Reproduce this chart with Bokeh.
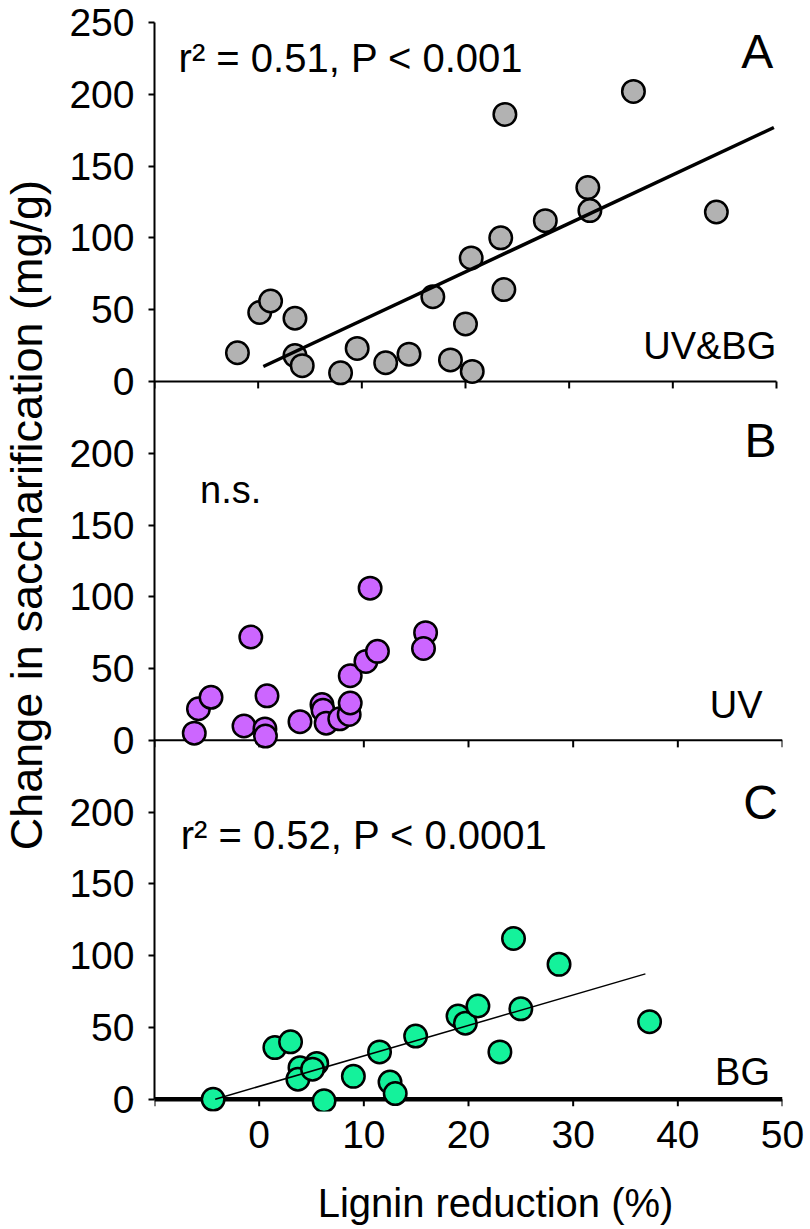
import math
from bokeh.plotting import figure
from bokeh.models import Range1d, FixedTicker, Label
from bokeh.layouts import column, row
from bokeh.embed import file_html
from bokeh.resources import INLINE

FONT = "Liberation Sans"

# ---------------- data ----------------
# Panel A  (UV&BG)
a_x = [-2.0, 0.15, 1.2, 3.55, 3.55, 4.25, 7.95, 9.55, 12.3, 14.55, 16.85, 18.55,
       20.0, 20.65, 20.55, 23.4, 23.7, 23.8, 27.7, 31.8, 32.0, 36.2, 44.2]
a_y = [20, 48, 56, 44, 18, 11, 6, 23, 13, 19, 59, 15,
       40, 7, 86, 100, 64, 186, 112, 135, 119, 202, 118]
# Panel B  (UV)
b_x = [-6.2, -5.8, -4.6, -1.45, -0.8, 0.55, 0.6, 0.75, 3.9, 6.0, 6.1, 6.4,
       7.7, 8.6, 8.7, 8.7, 10.2, 10.6, 11.3, 15.9, 15.7]
b_y = [5, 22, 30, 10, 72, 8, 3, 31, 13, 25, 21, 12,
       15, 18, 26, 45, 55, 106, 62, 75, 64]
# Panel C  (BG)
c_x = [-4.4, 1.5, 3.0, 3.9, 3.7, 5.5, 5.1, 6.2, 9.0, 11.5, 12.5, 13.0,
       14.95, 19.0, 19.7, 20.9, 23.0, 24.3, 25.0, 28.65, 37.3]
c_y = [0, 36, 40, 22, 14, 25, 21, -1, 16, 33, 12, 4,
       44, 58, 53, 65, 33, 112, 63, 94, 54]

# regression lines: slope, intercept, x extent
fit_a = {"slope": 3.38, "intercept": 8.7, "x": [0.5, 49.75]}
fit_c = {"slope": 2.123, "intercept": 9.0, "x": [-4.2, 36.9]}

x_ticks = [-10, 0, 10, 20, 30, 40, 50]
x_tick_labels = ["", "0", "10", "20", "30", "40", "50"]
y_ticks_a = [0, 50, 100, 150, 200, 250]
y_ticks_b = [0, 50, 100, 150, 200]
y_ticks_c = [0, 50, 100, 150, 200]

x_title = "Lignin reduction (%)"
y_title = "Change in saccharification (mg/g)"

panel_span = 250
offsets = {"A": 2 * panel_span, "B": panel_span, "C": 0}
y_lo, y_hi = -8.5, 3 * panel_span

# ---------------- layout sizes ----------------
W, H = 810, 1229
LEFT_W = 52          # strip holding the y title
BOTTOM_H = 64        # strip holding the x title
MAIN_W, MAIN_H = W - LEFT_W, H - BOTTOM_H
FRAME_L, FRAME_R, FRAME_T, FRAME_B = 154 - LEFT_W, 28, 22, 54
frame_h = MAIN_H - FRAME_T - FRAME_B
px_per_unit = frame_h / (y_hi - y_lo)

p = figure(width=MAIN_W, height=MAIN_H,
           x_range=Range1d(-10, 50), y_range=Range1d(y_lo, y_hi),
           output_backend="svg", toolbar_location=None,
           min_border_left=FRAME_L, min_border_right=FRAME_R,
           min_border_top=FRAME_T, min_border_bottom=FRAME_B)
p.extra_y_ranges = {"A": Range1d(y_lo - offsets["A"], y_hi - offsets["A"]),
                    "B": Range1d(y_lo - offsets["B"], y_hi - offsets["B"])}
p.extra_x_ranges = {"A": Range1d(-10, 50.58)}
p.grid.visible = False
p.outline_line_color = None

# ---- y axis (one continuous axis for the three stacked panels) ----
ytick_pos, overrides = [], {}
for name, ticks in (("C", y_ticks_c), ("B", y_ticks_b), ("A", y_ticks_a)):
    for t in ticks:
        pos = t + offsets[name]
        ytick_pos.append(pos)
        overrides[pos] = str(t)
yax = p.yaxis[0]
yax.ticker = FixedTicker(ticks=sorted(set(ytick_pos)), minor_ticks=[])
yax.major_label_overrides = overrides
yax.bounds = (0, y_hi)
yax.axis_line_width = 2
yax.axis_line_color = "black"
yax.major_tick_line_width = 2
yax.major_tick_out = 6
yax.major_tick_in = 0
yax.minor_tick_out = 0
yax.minor_tick_in = 0
yax.major_label_text_font = FONT
yax.major_label_text_font_size = "39px"
yax.major_label_text_color = "black"
yax.major_label_standoff = 14

# ---- x axis labels (bottom) ----
xax = p.xaxis[0]
xax.ticker = FixedTicker(ticks=x_ticks, minor_ticks=[])
xax.major_label_overrides = {t: l for t, l in zip(x_ticks, x_tick_labels)}
xax.axis_line_color = None
xax.major_tick_line_color = None
xax.minor_tick_line_color = None
xax.major_label_text_font = FONT
xax.major_label_text_font_size = "39px"
xax.major_label_text_color = "black"
xax.major_label_standoff = 3

tick_units = 7 / px_per_unit
# zero lines + downward ticks of the three panels
for name, xr, lw in (("default", "default", 4.5), ("A", "A", 2), ("B", "default", 2)):
    p.line(x=[x_ticks[0], x_ticks[-1]], y=[0, 0], line_width=lw, line_color="black",
           x_range_name=xr, y_range_name=name)
    p.segment(x0=x_ticks, x1=x_ticks, y0=[0] * len(x_ticks),
              y1=[-tick_units] * len(x_ticks), line_width=2, line_color="black",
              x_range_name=xr, y_range_name=name)

# ---- points ----
MS, LW = 22.5, 2.5
p.scatter(a_x, a_y, size=MS, fill_color="#B2B2B2", line_color="black", line_width=LW,
          x_range_name="A", y_range_name="A")
p.scatter(b_x, b_y, size=MS, fill_color="#CC66FF", line_color="black", line_width=LW,
          y_range_name="B")
p.scatter(c_x, c_y, size=MS, fill_color="#14F29B", line_color="black", line_width=LW)

# ---- regression lines ----
fa_y = [fit_a["slope"] * x + fit_a["intercept"] for x in fit_a["x"]]
p.line(fit_a["x"], fa_y, line_width=3.5, line_color="black",
       x_range_name="A", y_range_name="A")
fc_y = [fit_c["slope"] * x + fit_c["intercept"] for x in fit_c["x"]]
p.line(fit_c["x"], fc_y, line_width=1.5, line_color="black")

# ---- texts inside the panels ----
def lab(fig, text, x, y, size, rng="default", align="left", baseline="middle", angle=0.0):
    kw = {}
    if rng != "default":
        kw["y_range_name"] = rng
    fig.add_layout(Label(x=x, y=y, text=text, text_align=align, text_baseline=baseline,
                         text_font=FONT, text_font_size=size, text_color="black",
                         angle=angle, **kw))

lab(p, "r² = 0.51, P < 0.001", -7.7, 225.5, "40px", "A")
lab(p, "A", 47.6, 229.6, "48px", "A", align="center")
lab(p, "UV&BG", 49.4, 24.7, "38px", "A", align="right")

lab(p, "B", 47.9, 208.8, "48px", "B", align="center")
lab(p, "n.s.", -5.65, 174.2, "38px", "B")
lab(p, "UV", 48.1, 24.5, "38px", "B", align="right")

lab(p, "C", 47.9, 207.0, "48px", align="center")
lab(p, "r² = 0.52, P < 0.0001", -7.5, 184.4, "40px")
lab(p, "BG", 48.8, 18.7, "38px", align="right")


# ---- strips for the axis titles (pixel-unit ranges) ----
def strip(w, h):
    f = figure(width=w, height=h, x_range=Range1d(0, w), y_range=Range1d(0, h),
               output_backend="svg", toolbar_location=None, min_border=0,
               x_axis_location=None, y_axis_location=None)
    f.grid.visible = False
    f.outline_line_color = None
    return f

left = strip(LEFT_W, MAIN_H)
lab(left, y_title, 26, MAIN_H - 527, "45px", align="center", angle=math.pi / 2)

bottom = strip(W, BOTTOM_H)
lab(bottom, x_title, 495, BOTTOM_H - (1202 - MAIN_H), "40px",
    align="center", baseline="alphabetic")

layout = column(row(left, p), bottom)
open("out.html", "w").write(file_html(layout, INLINE))
